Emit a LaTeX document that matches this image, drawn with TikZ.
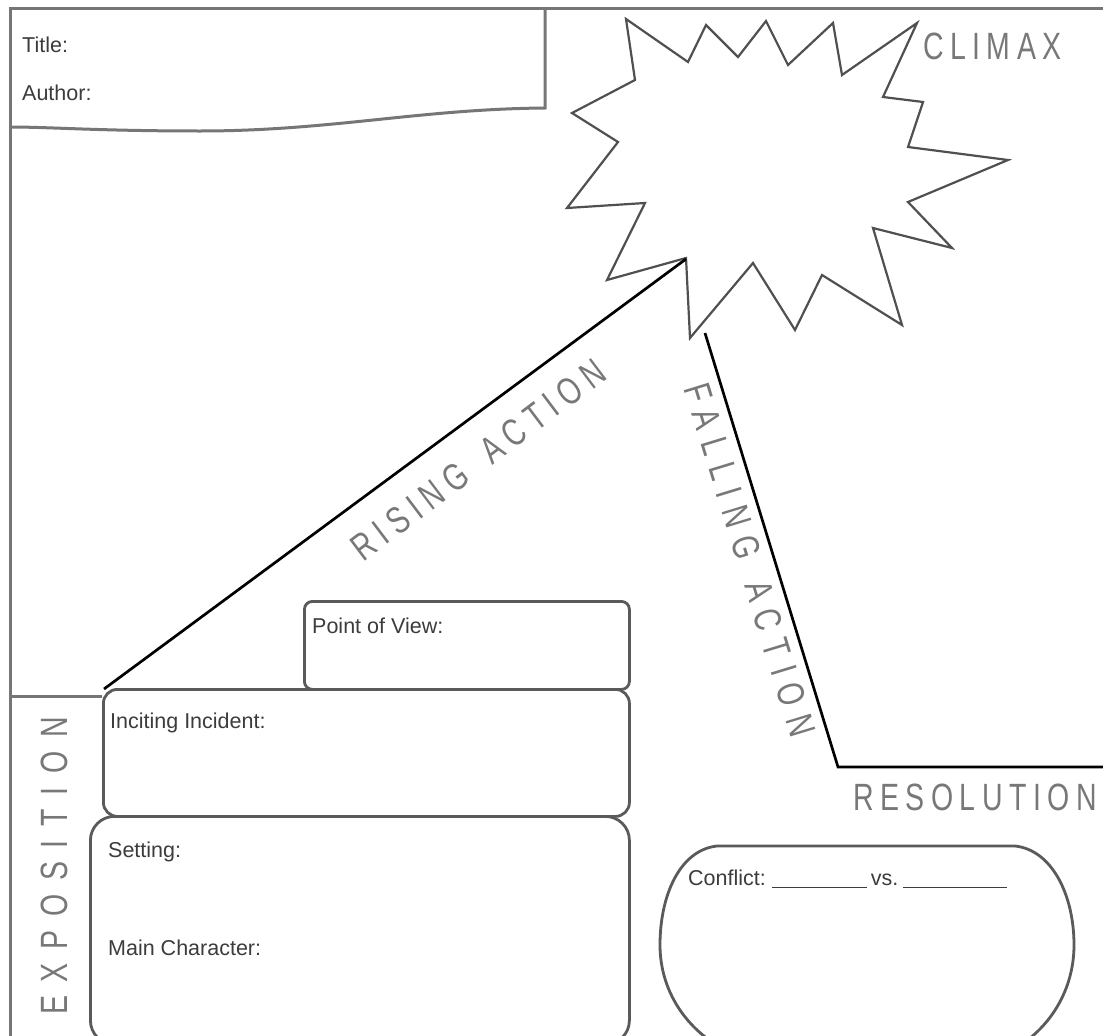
\documentclass[tikz,border=0pt]{standalone}
\usepackage{fontspec}
\setmainfont{Liberation Sans}
\newfontfamily\smallfont{Liberation Sans}
\newfontfamily\capsA[FakeStretch=0.75,LetterSpace=17]{Liberation Sans}
\newfontfamily\capsB[FakeStretch=0.75,LetterSpace=20]{Liberation Sans}
\newfontfamily\capsC[FakeStretch=0.75,LetterSpace=28]{Liberation Sans}
\newfontfamily\capsD[FakeStretch=0.75,LetterSpace=36]{Liberation Sans}
\definecolor{framegray}{HTML}{767676}
\definecolor{boxgray}{HTML}{5A5A5A}
\definecolor{burstgray}{HTML}{505050}
\definecolor{biggray}{HTML}{787878}
\definecolor{txtgray}{HTML}{3C3C3C}
\begin{document}
\begin{tikzpicture}[x=1pt,y=-1pt,
  frameline/.style={draw=framegray, line width=3pt},
  boxline/.style={draw=boxgray, line width=2.8pt},
  plotline/.style={draw=black, line width=2.7pt},
  burst/.style={draw=burstgray, line width=2.2pt, line join=miter},
  smalltxt/.style={font=\smallfont\fontsize{21.5}{26}\selectfont, text=txtgray, inner sep=0pt, anchor=west},
  bigtxt/.style={text=biggray, inner sep=0pt},
  panel/.style={boxline, inner sep=0pt, anchor=north west}]
\useasboundingbox (0,0) rectangle (1103,1036);
\clip (0,0) rectangle (1103,1036);
\fill[white] (0,0) rectangle (1103,1036);

% outer frame
\coordinate (frBL) at (10,1040);
\coordinate (frTL) at (10,8);
\coordinate (frTR) at (1105,8);
\draw[frameline] (frBL) -- (frTL) -- (frTR);

% title box
\coordinate (ttTR) at (545,8);
\coordinate (ttBR) at (545,108);
\coordinate (ttBL) at (10,127);
\draw[frameline] (ttTR) -- (ttBR) .. controls (420,109) and (330,131) .. (200,131) .. controls (100,131) and (50,127) .. (ttBL);
\node[smalltxt] (title) at (22,45) {Title:};
\node[smalltxt] (author) at (22,93) {Author:};

% starburst
\draw[burst] (626,19) -- (688,62) -- (706,25) -- (738,57) -- (766,21) -- (788,65)
  -- (833,23) -- (842,75) -- (917,23) -- (883,97) -- (923,102) -- (908,147)
  -- (1008,160) -- (908,202) -- (952,248) -- (873,228) -- (902,325) -- (822,275)
  -- (795,330) -- (753,263) -- (690,338) -- (686,258) -- (607,280) -- (645,203)
  -- (567,208) -- (618,142) -- (572,113) -- (635,80) -- cycle;
\coordinate (peakL) at (686,259);
\coordinate (fallTop) at (705,333);
\coordinate (fallEnd) at (838,767);
\coordinate (resEnd) at (1105,767);
\coordinate (expo) at (104,689);

% panels
\node[panel, rounded corners=24pt, minimum width=539pt, minimum height=228pt] (settingbox) at (89,815) {};
\node[panel, rounded corners=14pt, minimum width=526pt, minimum height=127pt] (incitebox) at (102,688) {};
\node[panel, rounded corners=8pt, minimum width=325pt, minimum height=88pt] (povbox) at (303,600) {};

\node[smalltxt] (pov) at (312,626) {Point of View:};
\node[smalltxt] (incite) at (110,723) {Inciting Incident:};
\node[smalltxt] (setting) at (108,852) {Setting:};
\node[smalltxt] (mainchar) at (108,948) {Main Character:};

% exposition separator
\coordinate (sepL) at (10,696);
\coordinate (sepR) at (102,696);
\draw[frameline] (sepL) -- (sepR);

% plot lines
\draw[plotline] (expo) -- (peakL);
\draw[plotline, line join=miter] (fallTop) -- (fallEnd) -- (resEnd);

% conflict box
\coordinate (cfTL) at (717,846);
\coordinate (cfTR) at (1015,846);
\draw[boxline] (712,1042) .. controls (680,1020) and (660,985) .. (660,945)
  .. controls (660,895) and (680,850) .. (cfTL) -- (cfTR)
  .. controls (1052,850) and (1074,895) .. (1074,945)
  .. controls (1074,985) and (1055,1020) .. (1025,1042);
\node[smalltxt] (conflict) at (688,879) {Conflict:\hspace{6pt}\rule[-3pt]{95pt}{1.6pt}\hspace{4pt}vs.\hspace{5pt}\rule[-3pt]{104pt}{1.6pt}};

% big labels
\node[bigtxt, anchor=base west, font=\capsA\fontsize{38}{38}\selectfont] (climax) at (923,59) {CLIMAX};
\node[bigtxt, anchor=base west, font=\capsA\fontsize{38}{38}\selectfont] (resolution) at (853,810) {RESOLUTION};
\node[bigtxt, anchor=center, rotate=90, font=\capsD\fontsize{38}{38}\selectfont] (exposition) at (54,866) {EXPOSITION};
\node[bigtxt, anchor=center, rotate=37, font=\capsB\fontsize{38}{38}\selectfont] (rising) at (478,460) {RISING\hspace{10pt} ACTION};
\node[bigtxt, anchor=center, rotate=-73, font=\capsC\fontsize{38}{38}\selectfont] (falling) at (750,560) {FALLING\hspace{6pt} ACTION};
\end{tikzpicture}
\end{document}
